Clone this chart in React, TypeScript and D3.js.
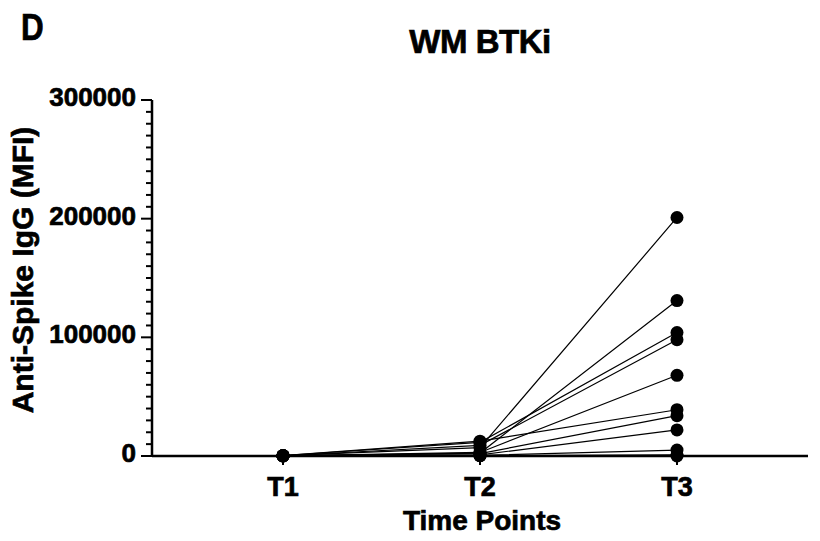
import React from "react";
import * as d3 from "d3";

const timePoints = ["T1", "T2", "T3"];
// one entry per patient
const t1Values = [300, 200, 400, 200, 100, 300, 100, 200, 100, 300, 200];
const t2Values = [7000, 2500, 11500, 9000, 3000, 12500, 2000, 1000, 500, 300, 200];
const t3Values = [201000, 131000, 104000, 98000, 68000, 39000, 34000, 22000, 5000, 1000, 0];
const yTicks = [0, 100000, 200000, 300000];

const W = 820;
const H = 541;
const left = 152;
const right = 808;
const top = 100;
const bottom = 456;

const font = "'Liberation Sans', Arial, sans-serif";
// the reference text is heavier than plain bold
const heavy = { fontFamily: font, fontWeight: "bold" as const, stroke: "#000", strokeWidth: 0.7 };

export default function App() {
  const x = d3.scalePoint<string>().domain(timePoints).range([left, right]).padding(0.665);
  const y = d3.scaleLinear().domain([0, 300000]).range([bottom, top]);
  const minor = d3.range(0, 300001, 10000).filter((v) => v % 100000 !== 0);

  const subjects = t1Values.map((_, i) => [t1Values[i], t2Values[i], t3Values[i]]);
  const line = d3
    .line<number>()
    .x((_, i) => x(timePoints[i]) as number)
    .y((d) => y(d));

  return (
    <svg width={W} height={H} style={{ position: "absolute", left: 0, top: 0, background: "#fff" }}>
      <text x={21} y={40} {...heavy} fontSize={37} transform="translate(21,40) scale(0.85,1) translate(-21,-40)">
        D
      </text>
      <text x={480} y={53} textAnchor="middle" {...heavy} fontSize={33} letterSpacing={-0.5}>
        WM BTKi
      </text>

      {/* y axis */}
      <line x1={left} x2={left} y1={top} y2={bottom} stroke="#000" strokeWidth={2.5} />
      {minor.map((v) => (
        <line key={"m" + v} x1={left - 6} x2={left} y1={y(v)} y2={y(v)} stroke="#000" strokeWidth={2} />
      ))}
      {yTicks.map((v) => (
        <g key={v}>
          <line x1={left - 11} x2={left} y1={y(v)} y2={y(v)} stroke="#000" strokeWidth={2} />
          <text x={136} y={y(v) + 6} textAnchor="end" {...heavy} fontSize={26}>
            {v}
          </text>
        </g>
      ))}
      <text transform="translate(33,270) rotate(-90)" textAnchor="middle" {...heavy} fontSize={30}>
        Anti-Spike IgG (MFI)
      </text>

      {/* x axis */}
      <line x1={left} x2={right} y1={bottom} y2={bottom} stroke="#000" strokeWidth={2.5} />
      {timePoints.map((t) => (
        <g key={t}>
          <line x1={x(t)} x2={x(t)} y1={bottom} y2={bottom + 9} stroke="#000" strokeWidth={2} />
          <text x={x(t)} y={496} textAnchor="middle" {...heavy} fontSize={27}>
            {t}
          </text>
        </g>
      ))}
      <text x={482} y={530} textAnchor="middle" {...heavy} fontSize={28}>
        Time Points
      </text>

      {/* data */}
      {subjects.map((s, i) => (
        <path key={"l" + i} d={line(s) || ""} fill="none" stroke="#000" strokeWidth={1.2} />
      ))}
      {subjects.map((s, i) =>
        s.map((v, j) => <circle key={i + "-" + j} cx={x(timePoints[j])} cy={y(v)} r={6.5} fill="#000" />)
      )}
    </svg>
  );
}
